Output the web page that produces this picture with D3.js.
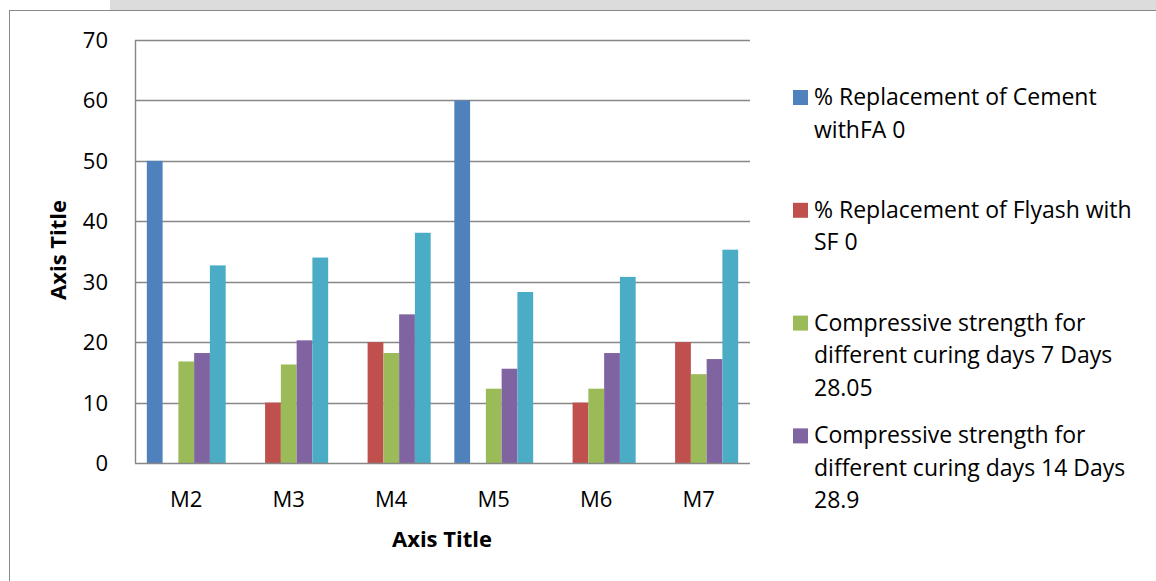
<!DOCTYPE html>
<html><head><meta charset="utf-8">
<script src="https://cdn.jsdelivr.net/npm/d3@7"></script>
<style>
html,body{margin:0;padding:0;background:#fff;}
svg{display:block;font-family:"Open Sans",sans-serif;}
</style></head>
<body>
<svg id="chart" width="1156" height="581"></svg>
<script>
const categories = ["M2","M3","M4","M5","M6","M7"];
const seriesNames = [
  "% Replacement of Cement withFA 0",
  "% Replacement of Flyash with SF 0",
  "Compressive strength for different curing days 7 Days 28.05",
  "Compressive strength for different curing days 14 Days 28.9",
  "Compressive strength for different curing days 28 Days"
];
const replCementFA   = [50, 0, 0, 60, 0, 0];
const replFlyashSF   = [0, 10, 20, 0, 10, 20];
const strength7Days  = [16.8, 16.3, 18.2, 12.3, 12.3, 14.7];
const strength14Days = [18.2, 20.3, 24.6, 15.6, 18.2, 17.2];
const strength28Days = [32.7, 34.0, 38.1, 28.3, 30.8, 35.3];
const seriesValues = [replCementFA, replFlyashSF, strength7Days, strength14Days, strength28Days];
const colors = ["#4f81bd","#c0504d","#9bbb59","#8064a2","#4bacc6"];
const yTicks = [0,10,20,30,40,50,60,70];
const legendLines = [
  ["% Replacement of Cement","withFA 0"],
  ["% Replacement of Flyash with","SF 0"],
  ["Compressive strength for","different curing days 7 Days","28.05"],
  ["Compressive strength for","different curing days 14 Days","28.9"]
];

const FS = 22;
const svg = d3.select("#chart");

// page watermark strip and chart frame
svg.append("rect").attr("x",110).attr("y",0).attr("width",1046).attr("height",10).attr("fill","#dcdcdc");
svg.append("rect").attr("x",9.5).attr("y",10.5).attr("width",1200).attr("height",600)
  .attr("fill","#fff").attr("stroke","#888").attr("stroke-width",1);

const plot = {left:135, right:750, top:40, bottom:463};
const y = d3.scaleLinear().domain([0,70]).range([plot.bottom, plot.top]);
const x0 = d3.scaleBand().domain(categories).range([plot.left, plot.right]).padding(0);
const x1 = d3.scaleBand().domain(d3.range(seriesValues.length)).range([0, x0.bandwidth()])
  .paddingInner(0).paddingOuter(0.75);

// gridlines
svg.append("g").selectAll("line").data(yTicks.filter(t=>t>0)).join("line")
  .attr("x1",plot.left).attr("x2",plot.right)
  .attr("y1",d=>Math.round(y(d))+0.5).attr("y2",d=>Math.round(y(d))+0.5)
  .attr("stroke","#878787").attr("stroke-width",1.4);

// bars
const groups = svg.append("g").selectAll("g").data(categories).join("g")
  .attr("transform",d=>`translate(${x0(d)},0)`);
groups.selectAll("rect").data((c,i)=>seriesValues.map((vals,s)=>({s, v:vals[i]})).filter(d=>d.v>0)).join("rect")
  .attr("x",d=>x1(d.s)).attr("width",x1.bandwidth())
  .attr("y",d=>y(d.v)).attr("height",d=>y(0)-y(d.v))
  .attr("fill",d=>colors[d.s]);

// axes lines
svg.append("line").attr("x1",plot.left+0.5).attr("x2",plot.left+0.5).attr("y1",plot.top).attr("y2",plot.bottom)
  .attr("stroke","#878787").attr("stroke-width",1.4);
svg.append("line").attr("x1",plot.left).attr("x2",plot.right).attr("y1",plot.bottom+0.5).attr("y2",plot.bottom+0.5)
  .attr("stroke","#878787").attr("stroke-width",1.6);

function label(g, txt, xx, yy, anchor, weight, size) {
  return g.append("text").attr("x",xx).attr("y",yy)
    .attr("text-anchor",anchor).attr("font-size",size||FS)
    .attr("font-weight",weight||"normal").attr("fill","#000").text(txt);
}

// y tick labels
yTicks.forEach(t=>{ label(svg, t, 108, y(t)+8, "end"); });
// x tick labels
categories.forEach(c=>{ label(svg, c, x0(c)+x0.bandwidth()/2, 507, "middle"); });

// axis titles
label(svg, "Axis Title", 442, 547, "middle", "bold");
svg.append("text").attr("transform","translate(66,250) rotate(-90)")
  .attr("text-anchor","middle").attr("font-size",FS).attr("font-weight","bold").text("Axis Title");

// legend
const leg = svg.append("g");
legendLines.forEach((lines,i)=>{
  const cy = 97 + 112.8*i;
  leg.append("rect").attr("x",793).attr("y",cy-7).attr("width",15).attr("height",15).attr("fill",colors[i]);
  lines.forEach((ln,j)=>{ label(leg, ln, 814, cy + 8 + j*32.5, "start", "normal", 23); });
});
</script>
</body></html>
